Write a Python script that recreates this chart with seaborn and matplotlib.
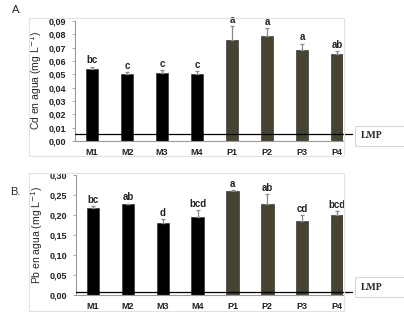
import numpy as np
import pandas as pd
import matplotlib
matplotlib.use("Agg")
import matplotlib.pyplot as plt
from matplotlib.patches import Rectangle
from matplotlib.ticker import FuncFormatter, MultipleLocator
import seaborn as sns

# datos
sitios = ["M1", "M2", "M3", "M4", "P1", "P2", "P3", "P4"]
cd_media = [0.054, 0.0505, 0.051, 0.050, 0.0755, 0.079, 0.0685, 0.0655]
cd_error = [0.0018, 0.0012, 0.0020, 0.0022, 0.0105, 0.0055, 0.0045, 0.0022]
cd_letras = ["bc", "c", "c", "c", "a", "a", "a", "ab"]
pb_media = [0.218, 0.2265, 0.179, 0.195, 0.260, 0.2275, 0.186, 0.200]
pb_error = [0.0035, 0.002, 0.010, 0.018, 0.002, 0.024, 0.014, 0.010]
pb_letras = ["bc", "ab", "d", "bcd", "a", "ab", "cd", "bcd"]
lmp_cd = 0.005
lmp_pb = 0.008

sns.set_style("white")
plt.rcParams["font.family"] = ["Liberation Sans", "DejaVu Sans"]

colores = {s: ("#000000" if s.startswith("M") else "#4a4530") for s in sitios}

W, H = 404, 323
fig = plt.figure(figsize=(W / 100, H / 100), dpi=100)


def px_ax(x0, x1, ytop, ybot):
    return [x0 / W, 1 - ybot / H, (x1 - x0) / W, (ybot - ytop) / H]


def panel(ax, medias, errores, letras, lmp, ymax, paso, etiqueta):
    df = pd.DataFrame({"sitio": sitios, "valor": medias})
    sns.barplot(data=df, x="sitio", y="valor", hue="sitio", palette=colores,
                legend=False, width=0.36, ax=ax, edgecolor="#222222", linewidth=0.4)
    x = np.arange(len(sitios))
    ax.errorbar(x, medias, yerr=[np.zeros(len(x)), errores], fmt="none",
                ecolor="#8a8a8a", elinewidth=0.9, capsize=1.5, capthick=0.9, zorder=3)
    for xi, m, e, l in zip(x, medias, errores, letras):
        ax.text(xi, m + e + ymax * 0.01, l, ha="center", va="bottom",
                fontsize=7, fontweight="bold", color="#222222")
    ax.axhline(lmp, xmin=0, xmax=1.034, color="black", lw=0.9, clip_on=False, zorder=4)
    ax.set_xlim(-0.49, 7.17)
    ax.set_ylim(0, ymax)
    ax.yaxis.set_major_locator(MultipleLocator(paso))
    ax.yaxis.set_major_formatter(FuncFormatter(lambda v, p: f"{v:.2f}".replace(".", ",")))
    ax.set_xlabel("")
    ax.set_ylabel(etiqueta, fontsize=7.5, labelpad=3)
    for s in ["top", "right"]:
        ax.spines[s].set_visible(False)
    for s in ["left", "bottom"]:
        ax.spines[s].set_color("#9a9a9a")
        ax.spines[s].set_linewidth(0.8)
    ax.tick_params(axis="y", direction="out", length=2.5, width=0.6, color="#9a9a9a",
                   labelsize=6.5, pad=4, left=True)
    ax.tick_params(axis="x", length=0, labelsize=6.5, pad=5)
    for t in ax.get_xticklabels() + ax.get_yticklabels():
        t.set_fontweight("bold")
        t.set_color("#222222")


axA = fig.add_axes(px_ax(75, 343, 21, 141))
panel(axA, cd_media, cd_error, cd_letras, lmp_cd, 0.09, 0.01,
      "Cd en agua (mg L$^{-1}$)")
axB = fig.add_axes(px_ax(76, 343, 175, 295))
panel(axB, pb_media, pb_error, pb_letras, lmp_pb, 0.30, 0.05,
      "Pb en agua (mg L$^{-1}$)")

# marcos de los paneles y cajas LMP
for (x0, y0, x1, y1) in [(29, 18, 344, 156), (29, 173, 344, 311)]:
    fig.patches.append(Rectangle((x0 / W, 1 - y1 / H), (x1 - x0) / W, (y1 - y0) / H,
                                 transform=fig.transFigure, fill=False,
                                 edgecolor="#e2e2e2", lw=0.8))
for (x0, y0, y1) in [(355, 126, 146), (355, 277, 297)]:
    fig.patches.append(Rectangle((x0 / W, 1 - y1 / H), 60 / W, (y1 - y0) / H,
                                 transform=fig.transFigure, fill=False,
                                 edgecolor="#d8d8d8", lw=0.8))
    fig.text(361 / W, 1 - (y0 + y1) / 2 / H, "LMP", family="Liberation Serif",
             fontsize=7, fontweight="bold", va="center", ha="left")

fig.text(12 / W, 1 - 10 / H, "A.", fontsize=8, va="center")
fig.text(10 / W, 1 - 192 / H, "B.", fontsize=8, va="center")

fig.savefig("out.png", dpi=100)
